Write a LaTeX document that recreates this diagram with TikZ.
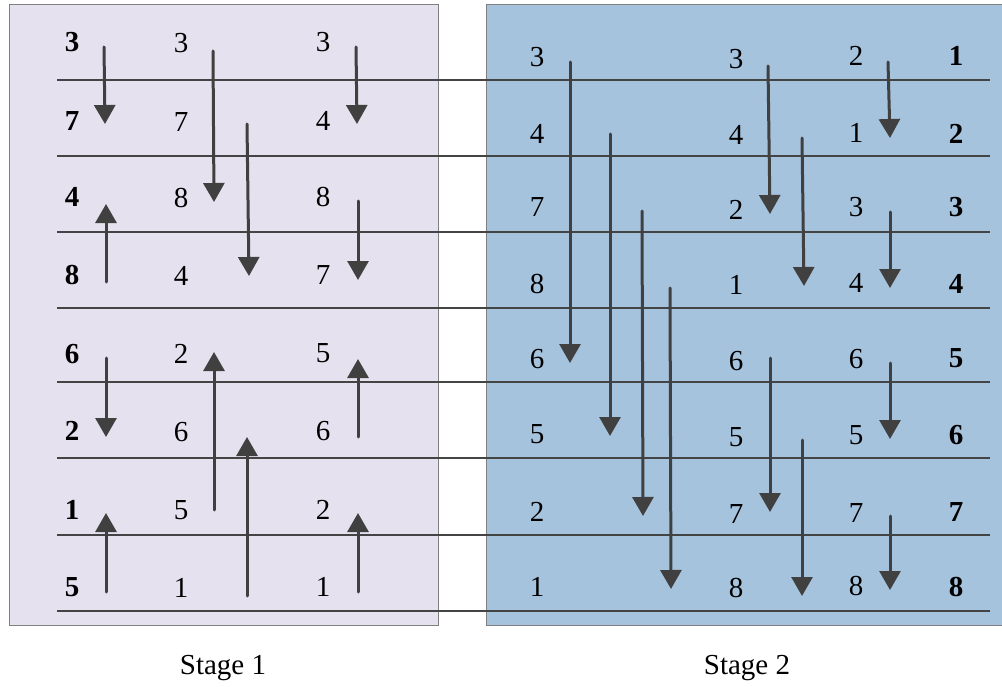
\documentclass[tikz,border=0pt]{standalone}
\usepackage{fontspec}
\setmainfont{Liberation Serif}
\usetikzlibrary{arrows.meta}
\definecolor{lav}{RGB}{229,225,238}
\definecolor{sky}{RGB}{166,195,222}
\definecolor{rimgray}{RGB}{128,128,128}
\definecolor{linegray}{RGB}{68,68,68}
\definecolor{arrowgray}{RGB}{64,64,64}
\tikzset{
  panel/.style={draw=rimgray, line width=1bp},
  wire/.style={draw=linegray, line width=2.2bp},
  arr/.style={draw=arrowgray, line width=3bp, line cap=round, -{Triangle[length=19bp,width=21bp]}},
  num/.style={inner sep=0pt, font=\fontsize{29bp}{34bp}\selectfont},
  bnum/.style={num, font=\fontsize{29bp}{34bp}\selectfont\bfseries},
  stagelabel/.style={inner sep=0pt, font=\fontsize{29bp}{34bp}\selectfont}
}
\begin{document}
\begin{tikzpicture}[x=1bp,y=-1bp]
\useasboundingbox (0,0) rectangle (1002,687);
\begin{scope}
\clip (0,0) rectangle (1002,687);
\path[panel, fill=lav] (9,5) rectangle (438,625);
\path[panel, fill=sky] (486,5) rectangle (1010,625);
\end{scope}
% wires
\foreach \y [count=\i] in {80,156,232,308,382,458,535,611}
  \draw[wire] (57,\y) -- (990,\y);
% left panel numbers
\foreach \v/\y [count=\i] in {3/42,7/121,4/197,8/275,6/354,2/431,1/510,5/587}
  \node[bnum] (a\i) at (72,\y) {\v};
\foreach \v/\y [count=\i] in {3/43,7/122,8/198,4/276,2/354,6/432,5/510,1/588}
  \node[num] (b\i) at (181,\y) {\v};
\foreach \v/\y [count=\i] in {3/42,4/121,8/197,7/275,5/353,6/431,2/510,1/587}
  \node[num] (c\i) at (323,\y) {\v};
% right panel numbers
\foreach \v/\y [count=\i] in {3/57,4/134,7/207,8/284,6/359,5/434,2/512,1/587}
  \node[num] (d\i) at (537,\y) {\v};
\foreach \v/\y [count=\i] in {3/59,4/135,2/210,1/285,6/361,5/437,7/514,8/588}
  \node[num] (e\i) at (736,\y) {\v};
\foreach \v/\y [count=\i] in {2/56,1/133,3/207,4/283,6/359,5/435,7/513,8/586}
  \node[num] (f\i) at (856,\y) {\v};
\foreach \v/\y [count=\i] in {1/56,2/134,3/207,4/284,5/358,6/435,7/512,8/587}
  \node[bnum] (g\i) at (956,\y) {\v};
% left arrows
\draw[arr] (104,47) -- (105,124);
\draw[arr] (106,282) -- (106,204);
\draw[arr] (106,358) -- (106,437);
\draw[arr] (106,592) -- (106,513);
\draw[arr] (213,51) -- (214,202);
\draw[arr] (247,124) -- (249,276);
\draw[arr] (214,510) -- (214,352);
\draw[arr] (247,596) -- (247,437);
\draw[arr] (356,47) -- (357,124);
\draw[arr] (358,201) -- (358,280);
\draw[arr] (358,437) -- (358,359);
\draw[arr] (358,592) -- (358,513);
% right arrows
\draw[arr] (570,62) -- (570,363);
\draw[arr] (610,134) -- (610,436);
\draw[arr] (642,211) -- (643,516);
\draw[arr] (670,288) -- (671,589);
\draw[arr] (768,66) -- (770,214);
\draw[arr] (802,138) -- (804,286);
\draw[arr] (770,358) -- (770,512);
\draw[arr] (802,440) -- (802,596);
\draw[arr] (888,62) -- (890,138);
\draw[arr] (890,212) -- (890,288);
\draw[arr] (890,363) -- (890,439);
\draw[arr] (890,516) -- (890,590);
% captions
\node[stagelabel] (s1) at (223,668) {Stage 1};
\node[stagelabel] (s2) at (747,668) {Stage 2};
\end{tikzpicture}
\end{document}
